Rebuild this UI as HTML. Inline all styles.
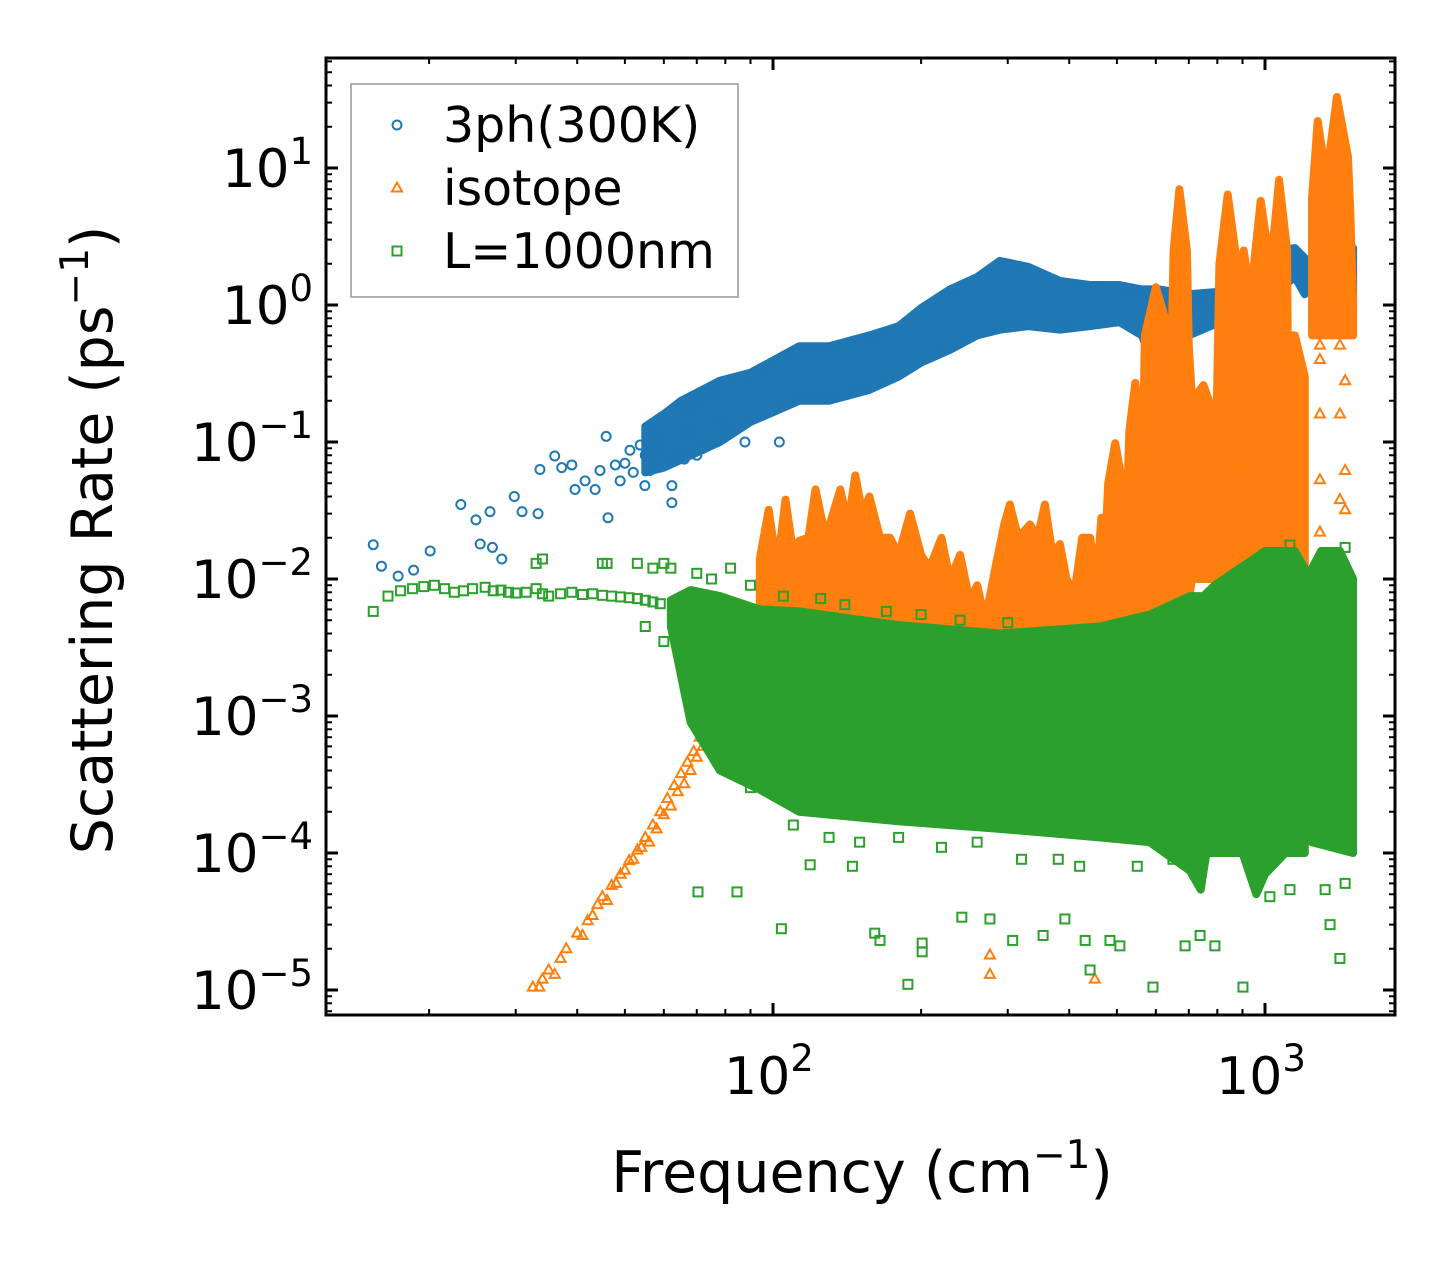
<!DOCTYPE html>
<html><head><meta charset="utf-8"><style>
html,body{margin:0;padding:0;background:#fff;}
svg{display:block;font-family:"DejaVu Sans","Liberation Sans",sans-serif;}
</style></head><body>
<svg id="chart" width="1455" height="1265" viewBox="0 0 1455 1265" xmlns="http://www.w3.org/2000/svg">
<defs><clipPath id="clip"><rect x="326" y="58" width="1069" height="957"/></clipPath></defs>
<g id="plot" clip-path="url(#clip)"></g>
<g id="axes"></g>
</svg>
<script>
// ---- data (frequency cm^-1, rate ps^-1) ----
const blueBand1 = [[55,0.06,0.13],[60,0.065,0.16],[65,0.074,0.2],[78,0.1,0.28],[90,0.14,0.32],[113,0.2,0.5],[130,0.2,0.5],[157,0.24,0.6],[180,0.3,0.7],[200,0.38,0.95],[229,0.47,1.3],[260,0.6,1.6],[289,0.66,2.1],[330,0.7,1.9],[383,0.66,1.5],[440,0.7,1.4],[506,0.75,1.4],[562,0.6,1.3],[580,0.45,1.3],[610,0.5,1.3],[700,0.6,1.2],[810,0.75,1.25],[900,0.8,1.6],[980,1.1,2.1],[1070,1.3,2.5],[1150,1.6,2.6],[1205,1.2,2.2]];
const blueBand2 = [[1246,1.0,2.3],[1510,1.0,2.6]];
const bluePts = [[15.4,0.0178],[16.0,0.0124],[17.3,0.0105],[18.6,0.0116],[20.1,0.016],[23.2,0.035],[24.9,0.027],[25.4,0.018],[26.6,0.031],[26.9,0.017],[28.1,0.014],[29.8,0.04],[30.9,0.031],[33.3,0.030],[33.6,0.063],[36.0,0.079],[37.2,0.065],[39.0,0.068],[39.6,0.045],[41.5,0.052],[43.5,0.045],[44.5,0.062],[45.8,0.11],[46.2,0.028],[47.8,0.068],[48.9,0.052],[51.2,0.087],[53.7,0.095],[54.9,0.048],[56.2,0.062],[57.5,0.104],[61.8,0.074],[62.3,0.048],[62.3,0.036],[64.7,0.081],[67.2,0.122],[67.8,0.171],[71.1,0.2],[74.5,0.24],[78.0,0.146],[81.8,0.122],[87.7,0.1],[103,0.1],[50,0.07],[52,0.06],[55,0.08],[58,0.09],[66,0.075],[70,0.08],[72,0.09],[76,0.25]];
const orangeTop1 = [[94,0.014],[98,0.032],[102,0.012],[106,0.038],[110,0.015],[113,0.019],[118,0.02],[122,0.045],[128,0.02],[137,0.045],[142,0.025],[147,0.057],[152,0.03],[157,0.04],[165,0.02],[173,0.02],[180,0.015],[190,0.03],[200,0.015],[208,0.012],[220,0.02],[229,0.0098],[240,0.015],[251,0.007],[260,0.009],[270,0.005],[283,0.012],[295,0.025],[303,0.035],[315,0.02],[333,0.025],[345,0.02],[357,0.035],[370,0.015],[383,0.018],[395,0.01],[410,0.008],[425,0.02],[441,0.02],[455,0.01],[465,0.028],[470,0.01],[480,0.05],[496,0.098],[519,0.04],[522,0.02],[530,0.12],[545,0.27],[562,0.12],[563,0.05],[570,0.6],[600,1.35],[641,0.6],[644,0.3],[652,2.5],[670,7],[694,2.5],[700,0.5],[711,0.2],[750,0.26],[791,0.15],[796,0.1],[808,2],[840,6.4],[877,2],[878,1.2],[905,2.5],[932,1.2],[936,1],[950,2],[980,5.75],[1023,2],[1025,1.5],[1040,3],[1068,8.2],[1109,2.5],[1112,0.6],[1150,0.6],[1205,0.3]];
const orangeBot1 = [[94,0.003],[300,0.0025],[462,0.0034],[519,0.0034],[564,0.0058],[694,0.0058],[711,0.01],[1109,0.01],[1205,0.01]];
const orangeTop2 = [[1246,6],[1280,22],[1336,8],[1350,12],[1400,33],[1475,12],[1490,5],[1510,1]];
const orangeBot2 = [[1246,0.6],[1510,0.6]];
const orangePts = [[32.5,1.05e-5],[33.5,1.05e-5],[34,1.2e-5],[35,1.4e-5],[36,1.3e-5],[37,1.7e-5],[38,2e-5],[40,2.6e-5],[42,3.2e-5],[44,4.2e-5],[45,4.8e-5],[47,5.8e-5],[49,7e-5],[51,8.8e-5],[53,1.05e-4],[55,1.3e-4],[57,1.6e-4],[59,2e-4],[61,2.5e-4],[63,3.1e-4],[65,3.8e-4],[67,4.6e-4],[69,5.5e-4],[71,7e-4],[73,8.5e-4],[75,1.05e-3],[78,1.3e-3],[80,1.6e-3],[83,2e-3],[86,2.6e-3],[90,3.3e-3],[54,1.1e-4],[58,1.5e-4],[62,2.2e-4],[66,3.2e-4],[70,5e-4],[74,7.5e-4],[77,1.1e-3],[82,1.8e-3],[88,2.8e-3],[41,2.5e-5],[43,3.5e-5],[46,4.5e-5],[48,6e-5],[50,7.5e-5],[52,9e-5],[56,1.2e-4],[60,1.9e-4],[64,2.8e-4],[68,4e-4],[72,6e-4],[76,9e-4],[79,1.2e-3],[84,1.9e-3],[1293,0.51],[1293,0.4],[1420,0.51],[1455,0.28],[1293,0.16],[1420,0.16],[1455,0.062],[1293,0.053],[1420,0.038],[1293,0.022],[1455,0.032],[1177,0.029],[1177,0.11],[1095,0.023],[1000,0.017],[932,0.027],[932,0.045],[891,0.038],[868,0.062],[851,0.2],[276,1.8e-5],[276,1.3e-5],[451,1.2e-5],[1177,2.9e-4]];
const greenTop1 = [[62,0.007],[68,0.0083],[78,0.0075],[94,0.006],[113,0.0058],[181,0.0046],[289,0.004],[461,0.0045],[583,0.0055],[704,0.0075],[750,0.0075],[790,0.009],[1000,0.016],[1150,0.016],[1205,0.012]];
const greenBot1 = [[62,0.0045],[68,9e-4],[78,4e-4],[94,2.9e-4],[113,2e-4],[181,1.7e-4],[289,1.5e-4],[461,1.3e-4],[583,1.2e-4],[704,7.4e-5],[740,5.4e-5],[760,1e-4],[900,1e-4],[960,5e-5],[1000,7e-5],[1100,1e-4],[1205,1e-4]];
const greenTop2 = [[1246,0.012],[1300,0.016],[1420,0.016],[1510,0.01]];
const greenBot2 = [[1246,1.2e-4],[1510,1e-4]];
const greenPts = [[15.4,0.0058],[16.5,0.0075],[17.5,0.0082],[18.5,0.0085],[19.5,0.0088],[20.5,0.009],[21.5,0.0085],[22.5,0.008],[23.5,0.0082],[24.5,0.0085],[26,0.0087],[27,0.0082],[28,0.0083],[29,0.008],[30,0.0079],[31.5,0.008],[33,0.0085],[34,0.0078],[35,0.0075],[37,0.0078],[39,0.008],[41,0.0077],[43,0.0078],[45,0.0076],[47,0.0075],[49,0.0074],[51,0.0073],[53,0.0072],[55,0.007],[57,0.0068],[59,0.0066],[33,0.013],[34,0.014],[45,0.013],[46,0.013],[53,0.013],[57,0.012],[60,0.013],[62,0.012],[55,0.0045],[60,0.0035],[84.5,5.2e-5],[70.4,5.2e-5],[104,2.8e-5],[119,8.2e-5],[145,8e-5],[161,2.6e-5],[165,2.3e-5],[188,1.1e-5],[201,2.2e-5],[201,1.9e-5],[242,3.4e-5],[276,3.3e-5],[307,2.3e-5],[354,2.5e-5],[392,3.3e-5],[431,2.3e-5],[441,1.4e-5],[484,2.3e-5],[507,2.1e-5],[592,1.05e-5],[688,2.1e-5],[738,2.5e-5],[791,2.1e-5],[902,1.05e-5],[1023,4.8e-5],[1124,5.4e-5],[1325,5.4e-5],[1356,3e-5],[1420,1.7e-5],[1455,6e-5],[1124,0.0177],[1455,0.017],[1380,0.013],[70,0.011],[75,0.01],[82,0.012],[90,0.009],[105,0.0075],[125,0.0072],[140,0.0065],[170,0.0058],[200,0.0055],[240,0.005],[300,0.0048],[90,3e-4],[110,1.6e-4],[130,1.3e-4],[150,1.2e-4],[180,1.3e-4],[220,1.1e-4],[260,1.2e-4],[320,9e-5],[380,9e-5],[420,8e-5],[550,8e-5],[650,9e-5]];
const yTicks = [1,0,-1,-2,-3,-4,-5];
const xTicks = [2,3];

// ---- scales ----
const X0=773, DX=492, Y0=305, DY=137;
const sx = f => X0 + DX*(Math.log10(f)-2);
const sy = v => Y0 - DY*Math.log10(v);
const NS='http://www.w3.org/2000/svg';
const plot=document.getElementById('plot'), axes=document.getElementById('axes');
function mk(tag, attrs, parent){const e=document.createElementNS(NS,tag);for(const k in attrs)e.setAttribute(k,attrs[k]);parent.appendChild(e);return e;}
const C={b:'#1f77b4',o:'#ff7f0e',g:'#2ca02c'};

function band(top, bot, color, name){
  const pts=top.map(p=>sx(p[0]).toFixed(1)+','+sy(p[1]).toFixed(1)).concat(bot.slice().reverse().map(p=>sx(p[0]).toFixed(1)+','+sy(p[1]).toFixed(1)));
  const e=mk('polygon',{points:pts.join(' '),fill:color,stroke:color,'stroke-width':8,'stroke-linejoin':'round'},plot);
  
  
}
function marker(type, f, v, color, name, parent){
  const x=sx(f), y=sy(v); let e;
  if(type==='c') e=mk('circle',{cx:x,cy:y,r:4.5,fill:'none',stroke:color,'stroke-width':2},parent);
  else if(type==='t') e=mk('polygon',{points:`${x},${y-5.5} ${x-5},${y+3.5} ${x+5},${y+3.5}`,fill:'none',stroke:color,'stroke-width':2},parent);
  else e=mk('rect',{x:x-4.5,y:y-4.5,width:9,height:9,fill:'none',stroke:color,'stroke-width':2},parent);
  
  
}
band(blueBand1.map(p=>[p[0],p[2]]), blueBand1.map(p=>[p[0],p[1]]), C.b, '3ph-band');
band(blueBand2.map(p=>[p[0],p[2]]), blueBand2.map(p=>[p[0],p[1]]), C.b, '3ph-band-high');
bluePts.forEach(p=>marker('c',p[0],p[1],C.b,'3ph-point',plot));
band(orangeTop1, orangeBot1, C.o, 'isotope-band');
band(orangeTop2, orangeBot2, C.o, 'isotope-band-high');
orangePts.forEach(p=>marker('t',p[0],p[1],C.o,'isotope-point',plot));
band(greenTop1, greenBot1, C.g, 'boundary-band');
band(greenTop2, greenBot2, C.g, 'boundary-band-high');
greenPts.forEach(p=>marker('s',p[0],p[1],C.g,'boundary-point',plot));

// ---- axes frame ----
const L=326,R=1395,T=58,B=1015;
const frame=mk('rect',{x:L,y:T,width:R-L,height:B-T,fill:'none',stroke:'#000','stroke-width':3},axes);


function tick(x1,y1,x2,y2,w){mk('line',{x1,y1,x2,y2,stroke:'#000','stroke-width':w},axes);}
for(let d=-6; d<=1; d++){
  for(let k=1;k<=9;k++){
    const y=sy(k*Math.pow(10,d)); if(y<T||y>B) continue;
    const len=k===1?12:6, w=k===1?3:2;
    tick(L,y,L+len,y,w); tick(R,y,R-len,y,w);
  }
}
yTicks.forEach(e=>{
  const t=mk('text',{x:313,y:sy(Math.pow(10,e))+19,'text-anchor':'end','font-size':53,fill:'#000'},axes);
  
  
  t.textContent='10';
  const s=mk('tspan',{dy:-23,'font-size':37},t); s.textContent=e<0?'\u2212'+(-e):String(e);
});
for(let d=1; d<=3; d++){
  for(let k=1;k<=9;k++){
    const x=sx(k*Math.pow(10,d)); if(x<L||x>R) continue;
    const len=k===1?12:6, w=k===1?3:2;
    tick(x,B,x,B-len,w); tick(x,T,x,T+len,w);
  }
}
xTicks.forEach(e=>{
  const t=mk('text',{x:sx(Math.pow(10,e))-4,y:1094,'text-anchor':'middle','font-size':52,fill:'#000'},axes);
  
  
  t.textContent='10';
  const s=mk('tspan',{dy:-23,'font-size':37},t); s.textContent=String(e);
});
const xt=mk('text',{x:862,y:1192,'text-anchor':'middle','font-size':57,fill:'#000'},axes);


xt.textContent='Frequency (cm';
mk('tspan',{dy:-24,'font-size':39},xt).textContent='\u22121';
mk('tspan',{dy:24},xt).textContent=')';
const yt=mk('text',{x:0,y:0,'text-anchor':'middle','font-size':57,fill:'#000',transform:'translate(112,540) rotate(-90)'},axes);


yt.textContent='Scattering Rate (ps';
mk('tspan',{dy:-24,'font-size':39},yt).textContent='\u22121';
mk('tspan',{dy:24},yt).textContent=')';

// ---- legend ----
const lg=mk('g',{},axes);


mk('rect',{x:351,y:84,width:387,height:213,fill:'#fff','fill-opacity':0.85,stroke:'#999','stroke-width':1.5},lg);
const legendLabels=['3ph(300K)','isotope','L=1000nm'];
const legendTypes=['c','t','s'];
const legendColors=[C.b,C.o,C.g];
legendLabels.forEach((lab,i)=>{
  const y=125+i*63;
  const g=mk('g',{},lg);
  
  
  const x=397;
  if(legendTypes[i]==='c') mk('circle',{cx:x,cy:y,r:4.5,fill:'none',stroke:legendColors[i],'stroke-width':2},g);
  else if(legendTypes[i]==='t') mk('polygon',{points:`${x},${y-5.5} ${x-5},${y+3.5} ${x+5},${y+3.5}`,fill:'none',stroke:legendColors[i],'stroke-width':2},g);
  else mk('rect',{x:x-4.5,y:y-4.5,width:9,height:9,fill:'none',stroke:legendColors[i],'stroke-width':2},g);
  const t=mk('text',{x:443,y:y+17,'font-size':49,fill:'#000'},g); t.textContent=lab;
});
</script>
</body></html>
